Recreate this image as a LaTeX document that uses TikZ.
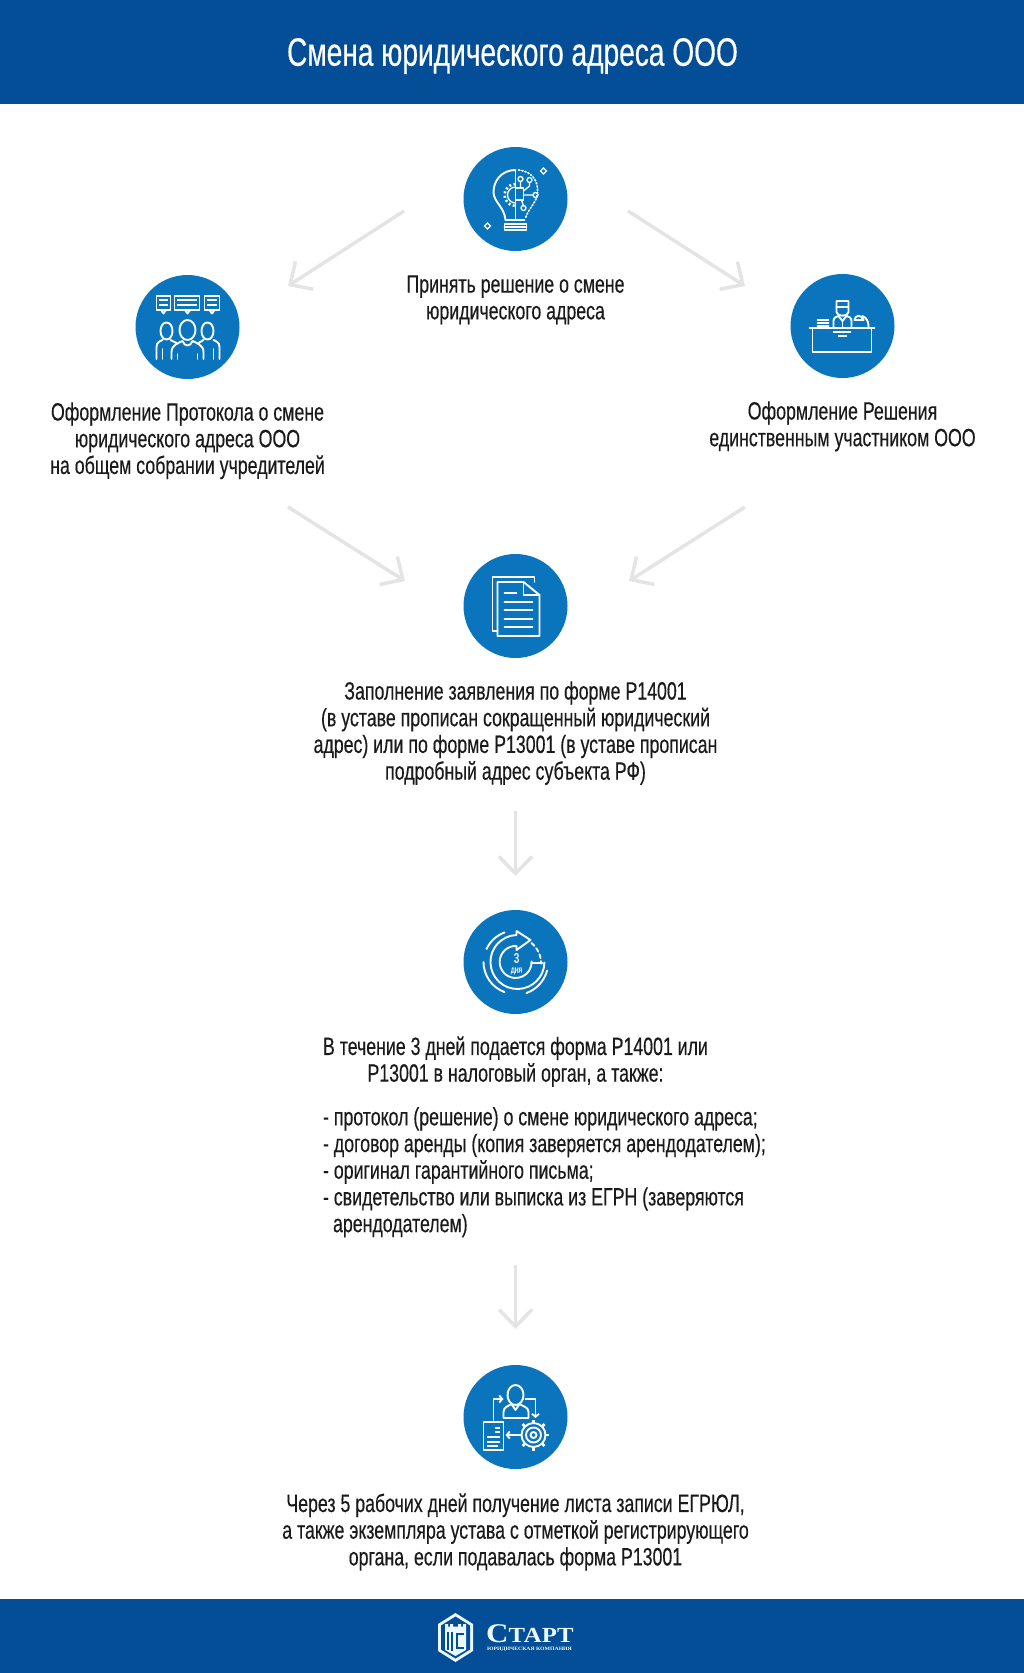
\documentclass[tikz,border=0pt]{standalone}
\usepackage{fontspec}
\setmainfont{Liberation Sans}[FakeStretch=0.71,FakeBold=0.35]
\newfontfamily\logofont{Liberation Serif}[FakeStretch=1.15]
\usetikzlibrary{arrows.meta,positioning}
\definecolor{navyband}{HTML}{034E96}
\definecolor{iconblue}{HTML}{0A75BD}
\definecolor{flowgrey}{HTML}{E4E4E4}
\definecolor{inktext}{HTML}{1A1A1A}

\begin{document}
\begin{tikzpicture}[
	x=1pt, y=-1pt,
	stepcirc/.style={circle, fill=iconblue, minimum size=104pt, inner sep=0pt},
	steptext/.style={
		align=center, inner sep=0pt, text=inktext,
		font=\fontsize{25}{26.7}\selectfont
	},
	flowarrow/.style={
		draw=flowgrey, line width=3.5pt,
		-{Straight Barb[length=17pt,width=33pt,line width=3.5pt]}
	},
	iconline/.style={draw=white, line width=1.9pt, line cap=round, line join=round},
	iconthin/.style={draw=white, line width=1.3pt, line cap=round}
	]
	\useasboundingbox (0,0) rectangle (1024,1673);
	
	% Bands
	\fill[navyband] (0,0) rectangle (1024,104);
	\fill[navyband] (0,1599) rectangle (1024,1673);
	\node[inner sep=0pt, text=white, font=\fontsize{39.6}{44}\selectfont] (title) at (512.5,56) {Смена юридического адреса ООО};
	
	% Steps
	\node[stepcirc] (decide) at (515.5,199) {};
	\node[stepcirc] (protocol) at (187.5,327) {};
	\node[stepcirc] (resolution) at (842.5,326) {};
	\node[stepcirc] (form) at (515.5,606) {};
	\node[stepcirc] (filing) at (515.5,962) {};
	\node[stepcirc] (receipt) at (515.5,1417) {};
	
	\node[steptext, below=24pt of decide] (decidetext) {Принять решение о смене\\юридического адреса};
	\node[steptext, below=23pt of protocol] (protocoltext) {Оформление Протокола о смене\\юридического адреса ООО\\на общем собрании учредителей};
	\node[steptext, below=23pt of resolution] (resolutiontext) {Оформление Решения\\единственным участником ООО};
	\node[steptext, below=23pt of form] (formtext) {Заполнение заявления по форме Р14001\\(в уставе прописан сокращенный юридический\\адрес) или по форме Р13001 (в уставе прописан\\подробный адрес субъекта РФ)};
	\node[steptext, below=22pt of filing] (filingtext) {В течение 3 дней подается форма Р14001 или\\Р13001 в налоговый орган, а также:};
	\node[steptext, align=left, anchor=north west] (filinglist) at (filingtext.south west |- 0,1107) {- протокол (решение) о смене юридического адреса;\\- договор аренды (копия заверяется арендодателем);\\- оригинал гарантийного письма;\\- свидетельство или выписка из ЕГРН (заверяются\\\hspace*{10pt}арендодателем)};
	\node[steptext, below=24pt of receipt] (receipttext) {Через 5 рабочих дней получение листа записи ЕГРЮЛ,\\а также экземпляра устава с отметкой регистрирующего\\органа, если подавалась форма Р13001};
	
	% Arrow ends
	\coordinate (decideL) at (404,211);
	\coordinate (decideR) at (628,211);
	\coordinate (protocolIn) at (288,286);
	\coordinate (resolutionIn) at (745,286);
	\coordinate (protocolOut) at (288,507);
	\coordinate (resolutionOut) at (745,507);
	\coordinate (formL) at (405,581);
	\coordinate (formR) at (629,581);
	\coordinate (formOut) at (515.5,811);
	\coordinate (filingIn) at (515.5,876);
	\coordinate (filingOut) at (515.5,1265);
	\coordinate (receiptIn) at (515.5,1329);
	
	\draw[flowarrow] (decideL) -- (protocolIn);
	\draw[flowarrow] (decideR) -- (resolutionIn);
	\draw[flowarrow] (protocolOut) -- (formL);
	\draw[flowarrow] (resolutionOut) -- (formR);
	\draw[flowarrow] (formOut) -- (filingIn);
	\draw[flowarrow] (filingOut) -- (receiptIn);
	
	% Bulb icon
	\begin{scope}[shift={(decide.center)}]
		\draw[iconline] (0,-29) .. controls (-14,-29) and (-22,-18) .. (-22,-7) .. controls (-22,3) and (-11,8) .. (-10,21) -- (9,21);
		\draw[iconline] (0,-29) -- (0,21);
		\draw[iconline] (-11,25) rectangle (11,31);
		\draw[iconline] (-11,28) -- (11,28);
		\draw[iconthin, dotted, line width=1.7pt] (3,-29) .. controls (16,-28) and (23,-18) .. (22,-7) .. controls (22,3) and (13,9) .. (10,19);
		\draw[iconthin] (0,-12) arc[start angle=270, end angle=90, radius=8];
		\draw[iconline, line cap=butt, dash pattern=on 2pt off 2.5pt, line width=2.6pt] (0,-15) arc[start angle=270, end angle=90, radius=11];
		\draw[iconline] (0,-11) rectangle (8,1);
		\draw[iconthin] (5,-11) -- (5,-17) (8,-8) -- (14,-13) -- (14,-16) (8,-4) -- (18,-4) (6,1) -- (8,7);
		\draw[iconthin] (5,-20) circle[radius=2.5] (14,-19) circle[radius=2.5] (20,-4) circle[radius=2.5] (8,9) circle[radius=2.5];
		\draw[iconthin] (28,-31) -- (31,-28) -- (28,-25) -- (25,-28) -- cycle;
		\draw[iconthin] (-28,24) -- (-25,27) -- (-28,30) -- (-31,27) -- cycle;
	\end{scope}
	
	% Meeting icon
	\begin{scope}[shift={(protocol.center)}]
		\foreach \bx/\bw/\tx in {-31/14/-24,-13/25/0,17/15/24.5}{
			\draw[iconline] (\bx,-31) rectangle ++(\bw,14);
			\draw[iconline] (\tx-2.5,-17) -- (\tx,-13.5) -- (\tx+2.5,-17);
			\draw[iconthin] (\bx+3,-27) -- (\bx+\bw-3,-27) (\bx+3,-22) -- (\bx+\bw-3,-22);
		}
		\draw[iconline] (-21,4) ellipse[x radius=6, y radius=8.5];
		\draw[iconline] (20,4) ellipse[x radius=6, y radius=8.5];
		\draw[iconline] (0,3) ellipse[x radius=8, y radius=10];
		\draw[iconline] (-16,32) -- (-16,25) .. controls (-16,18) and (-9,16) .. (-5,14) .. controls (-3,20) and (3,20) .. (5,14) .. controls (9,16) and (16,18) .. (16,25) -- (16,32);
		\draw[iconline] (-31,32) -- (-31,20) .. controls (-31,15) and (-27,14) .. (-25,13) (-17,13) -- (-11,16);
		\draw[iconline] (32,32) -- (32,20) .. controls (32,15) and (28,14) .. (26,13) (16,13) -- (11,16);
		\draw[iconthin] (-10,32) -- (-10,27) (10,32) -- (10,27) (-25,32) -- (-25,22) (26,32) -- (26,22);
	\end{scope}
	
	% Desk icon
	\begin{scope}[shift={(resolution.center)}]
		\draw[iconline] (-33,2) -- (32,2);
		\draw[iconline] (-30,2) -- (-30,26) -- (29,26) -- (29,2);
		\draw[iconthin] (-9,6) -- (8,6) (-4,10) -- (4,10);
		\draw[iconline] (-6,-25) -- (6,-25) -- (6,-14) .. controls (6,-9) and (-6,-9) .. (-6,-14) -- cycle;
		\draw[iconline] (-6,-19) -- (6,-19);
		\draw[iconline] (-9,2) -- (-9,-5) .. controls (-9,-9) and (-6,-9) .. (-4,-10) -- (0,-5) -- (4,-10) .. controls (6,-9) and (9,-9) .. (9,-5) -- (9,2);
		\draw[iconline] (0,-5) -- (0,2);
		\draw[iconline] (-25,-6) -- (-14,-6) (-25,-3) -- (-14,-3) (-25,0) -- (-14,0);
		\draw[iconline] (12,-6) .. controls (12,-11) and (19,-12) .. (21,-6) -- cycle;
		\draw[iconline] (20,-10) .. controls (25,-8) and (26,-3) .. (26,1);
	\end{scope}
	
	% Document icon
	\begin{scope}[shift={(form.center)}]
		\draw[iconline] (-18,25) -- (-23,25) -- (-23,-29) -- (19,-29) -- (19,-24);
		\draw[iconline] (8,-24) -- (-18,-24) -- (-18,30) -- (24,30) -- (24,-11) -- cycle;
		\draw[iconline] (8,-24) -- (8,-11) -- (24,-11);
		\draw[iconline] (-11,-13) -- (1,-13);
		\foreach \ly in {-4,4,13,21}{
			\draw[iconline] (-11,\ly) -- (17,\ly);
		}
	\end{scope}
	
	% Three days icon
	\begin{scope}[shift={(filing.center)}, y=1pt]
		\draw[iconline] (1,16) -- (1,12) -- (15,22) -- (1,31) -- (1,27) arc[start angle=92, end angle=359, radius=27];
		\draw[iconline] (1,16) arc[start angle=87, end angle=362, radius=16];
		\draw[iconline] (27,-1) -- (16,-1);
		\draw[iconline, dash pattern=on 4pt off 3pt] (16,19) arc[start angle=50, end angle=0, radius=27];
		\draw[iconline] (-29,13) arc[start angle=155, end angle=110, radius=32];
		\draw[iconline] (-32,0) arc[start angle=180, end angle=250, radius=32];
		\draw[iconline] (11,-31) arc[start angle=-70, end angle=-15, radius=33];
		\node[inner sep=0pt, text=white, font=\fontsize{14}{14}\selectfont] (dayst) at (1,4) {3};
		\node[inner sep=0pt, text=white, font=\fontsize{9.5}{10}\selectfont] (daysu) at (1,-9) {дня};
	\end{scope}
	
	% Workflow icon
	\begin{scope}[shift={(receipt.center)}]
		\draw[iconline] (0,-22) ellipse[x radius=8, y radius=10];
		\draw[iconline] (-12,1) -- (-12,-5) .. controls (-12,-10) and (-7,-11) .. (-4,-13) -- (0,-7) -- (4,-13) .. controls (7,-11) and (13,-10) .. (13,-5) -- (13,1) -- cycle;
		\draw[iconline] (-32,5) rectangle (-12,33);
		\draw[iconthin] (-20,11) -- (-16,11) (-20,15) -- (-16,15) (-28,20) -- (-16,20) (-28,25) -- (-16,25) (-28,29) -- (-18,29);
		\draw[iconline, -{Straight Barb[length=3pt,width=7pt]}] (-22,3) -- (-22,-18) -- (-12,-18);
		\draw[iconline, -{Straight Barb[length=3pt,width=7pt]}] (10,-18) -- (20,-18) -- (20,1);
		\draw[iconline, -{Straight Barb[length=3pt,width=7pt]}] (3,18) -- (-10,18);
		\draw[iconline] (18,18) circle[radius=12] (18,18) circle[radius=7.5] (18,18) circle[radius=3];
		\foreach \ang in {0,45,...,315}{
			\draw[iconline, line width=2.8pt, line cap=butt] ([shift={(18,18)}]\ang:12) -- ([shift={(18,18)}]\ang:15.5);
		}
	\end{scope}
	
	% Logo
	\fill[white!92!cyan] (455.5,1613) -- (473,1624) -- (473,1651) -- (455.5,1662) -- (438,1651) -- (438,1624) -- cycle;
	\fill[navyband] (455.5,1616.5) -- (470,1625.5) -- (470,1649.5) -- (455.5,1658.5) -- (441,1649.5) -- (441,1625.5) -- cycle;
	\fill[white!92!cyan] (445,1630) -- (445,1624) -- (448,1624) -- (448,1626.5) -- (450,1626.5) -- (450,1624) -- (453,1624) -- (453,1626.5) -- (458,1626.5) -- (458,1624) -- (461,1624) -- (461,1626.5) -- (463,1626.5) -- (463,1624) -- (466,1624) -- (466,1650) -- (455.5,1656) -- (445,1650) -- cycle;
	\fill[navyband] (447,1632) rectangle (449,1650);
	\fill[navyband] (451,1632) -- (453,1632) -- (453,1651) -- (451,1651) -- cycle;
	\draw[navyband, line width=1.8pt] (464,1634) -- (457,1634) -- (457,1648) -- (464,1648);
	\node[inner sep=0pt, anchor=base west, text=white!92!cyan, font={\logofont\bfseries\fontsize{27}{27}\selectfont}] (logoname) at (486,1642) {С\fontsize{21.5}{21.5}\selectfont ТАРТ};
	\node[inner sep=0pt, anchor=base west, text=white!92!cyan, font={\logofont\bfseries\fontsize{5}{6}\selectfont}] (logosub) at (487,1650) {ЮРИДИЧЕСКАЯ КОМПАНИЯ};
	
\end{tikzpicture}
\end{document}
